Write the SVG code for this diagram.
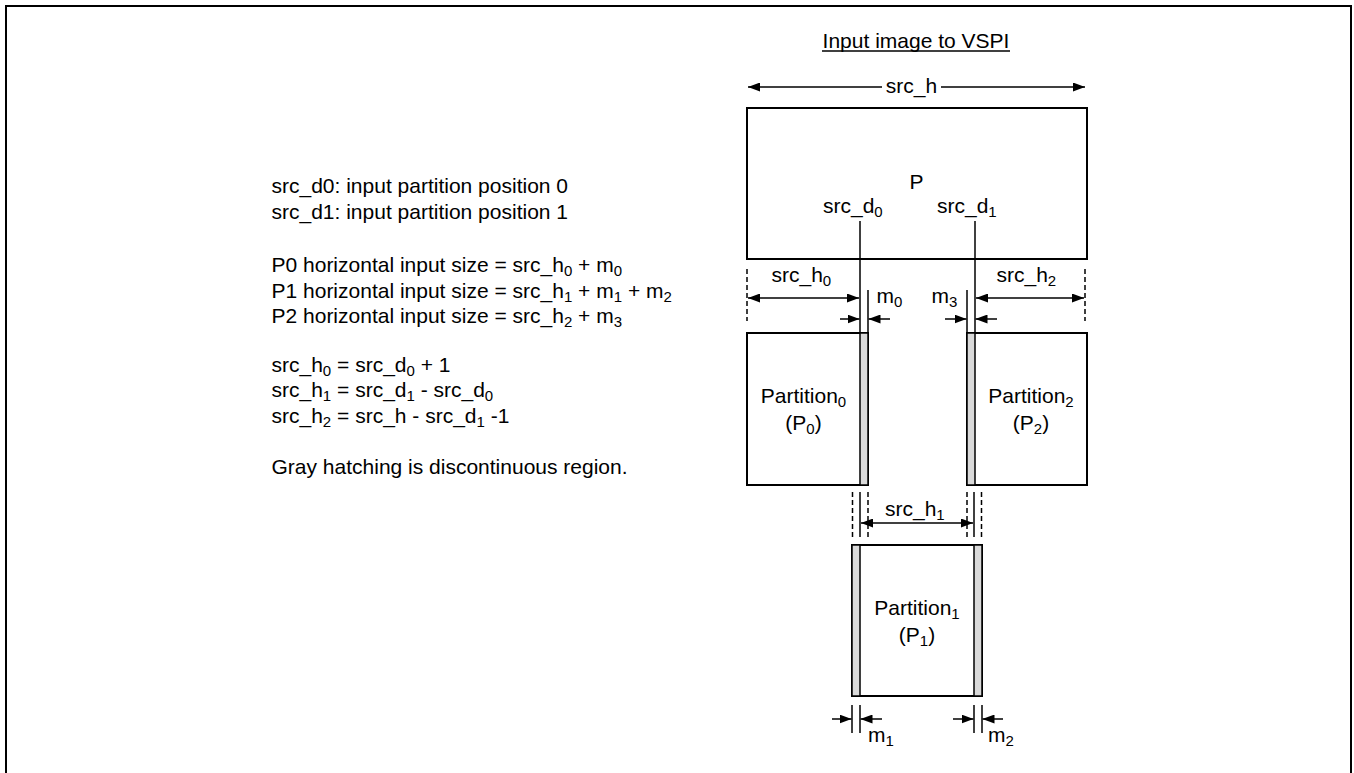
<svg xmlns="http://www.w3.org/2000/svg" width="1354" height="773" viewBox="0 0 1354 773">
<style>
text{font-family:"Liberation Sans",Arial,sans-serif;font-size:21px;fill:#000}
.sub{font-size:15px}
.box{fill:#fff;stroke:#000;stroke-width:2}
.strip{fill:#d9d9d9;stroke:#000;stroke-width:1.5}
.ln{stroke:#000;stroke-width:1.5;fill:none}
.dash{stroke:#000;stroke-width:1.5;fill:none;stroke-dasharray:5 3}
.arr{stroke:#000;stroke-width:1.5;fill:none;marker-end:url(#ah)}
.arr2{stroke:#000;stroke-width:1.5;fill:none;marker-start:url(#ah);marker-end:url(#ah)}
.arrs{stroke:#000;stroke-width:1.5;fill:none;marker-start:url(#ah)}
</style>
<defs>
<marker id="ah" viewBox="0 0 12 9" refX="12" refY="4.5" markerWidth="12" markerHeight="9" markerUnits="userSpaceOnUse" orient="auto-start-reverse">
<path d="M0,0 L12,4.5 L0,9 z" fill="#000"/>
</marker>
</defs>
<rect x="6" y="6" width="1345" height="780" fill="#fff" stroke="#000" stroke-width="2"/>

<g id="legend">
<text x="271.5" y="193.3">src_d0: input partition position 0</text>
<text x="271.5" y="219.3">src_d1: input partition position 1</text>
<text x="271.5" y="271.7">P0 horizontal input size = src_h<tspan class="sub" dy="4">0</tspan><tspan dy="-4"> + m</tspan><tspan class="sub" dy="4">0</tspan></text>
<text x="271.5" y="297.5">P1 horizontal input size = src_h<tspan class="sub" dy="4">1</tspan><tspan dy="-4"> + m</tspan><tspan class="sub" dy="4">1</tspan><tspan dy="-4"> + m</tspan><tspan class="sub" dy="4">2</tspan></text>
<text x="271.5" y="322.7">P2 horizontal input size = src_h<tspan class="sub" dy="4">2</tspan><tspan dy="-4"> + m</tspan><tspan class="sub" dy="4">3</tspan></text>
<text x="271.5" y="371.7">src_h<tspan class="sub" dy="4">0</tspan><tspan dy="-4"> = src_d</tspan><tspan class="sub" dy="4">0</tspan><tspan dy="-4"> + 1</tspan></text>
<text x="271.5" y="397.3">src_h<tspan class="sub" dy="4">1</tspan><tspan dy="-4"> = src_d</tspan><tspan class="sub" dy="4">1</tspan><tspan dy="-4"> - src_d</tspan><tspan class="sub" dy="4">0</tspan></text>
<text x="271.5" y="422.7">src_h<tspan class="sub" dy="4">2</tspan><tspan dy="-4"> = src_h - src_d</tspan><tspan class="sub" dy="4">1</tspan><tspan dy="-4"> -1</tspan></text>
<text x="271.5" y="474">Gray hatching is discontinuous region.</text>
</g>

<g id="title">
<text x="916" y="48.3" text-anchor="middle">Input image to VSPI</text>
<line x1="822" y1="51" x2="1010" y2="51" stroke="#000" stroke-width="1.3"/>
</g>

<g id="node-P">
<rect class="box" x="747" y="108" width="340" height="151"/>
<text x="916.5" y="189" text-anchor="middle">P</text>
<text x="823" y="212.7">src_d<tspan class="sub" dy="4">0</tspan></text>
<text x="937" y="212.7">src_d<tspan class="sub" dy="4">1</tspan></text>
</g>

<g id="node-P0">
<rect class="box" x="747" y="333" width="121" height="152"/>
<rect class="strip" x="860" y="333" width="8" height="152"/>
<text x="803.5" y="403" text-anchor="middle">Partition<tspan class="sub" dy="4">0</tspan></text>
<text x="803.5" y="430" text-anchor="middle">(P<tspan class="sub" dy="4">0</tspan><tspan dy="-4">)</tspan></text>
</g>

<g id="node-P2">
<rect class="box" x="967" y="333" width="120" height="152"/>
<rect class="strip" x="967" y="333" width="8" height="152"/>
<text x="1031" y="403" text-anchor="middle">Partition<tspan class="sub" dy="4">2</tspan></text>
<text x="1031" y="430" text-anchor="middle">(P<tspan class="sub" dy="4">2</tspan><tspan dy="-4">)</tspan></text>
</g>

<g id="node-P1">
<rect class="box" x="852" y="545" width="130" height="151"/>
<rect class="strip" x="852" y="545" width="8" height="151"/>
<rect class="strip" x="974" y="545" width="8" height="151"/>
<text x="917" y="615" text-anchor="middle">Partition<tspan class="sub" dy="4">1</tspan></text>
<text x="917" y="641.7" text-anchor="middle">(P<tspan class="sub" dy="4">1</tspan><tspan dy="-4">)</tspan></text>
</g>

<g id="connectors">
<line class="arrs" x1="748" y1="87" x2="882" y2="87"/>
<line class="arr" x1="941" y1="87" x2="1085" y2="87"/>
<text x="911.5" y="93" text-anchor="middle">src_h</text>
<line class="ln" x1="860" y1="221" x2="860" y2="333"/>
<line class="ln" x1="975" y1="221" x2="975" y2="333"/>
<line class="ln" x1="868" y1="290" x2="868" y2="333"/>
<line class="ln" x1="967" y1="290" x2="967" y2="333"/>
<line class="dash" x1="747" y1="269" x2="747" y2="321"/>
<line class="dash" x1="1085" y1="269" x2="1085" y2="321"/>
<line class="arr2" x1="748" y1="298" x2="859" y2="298"/>
<line class="arr2" x1="976" y1="298" x2="1084" y2="298"/>
<text x="771.5" y="281.7">src_h<tspan class="sub" dy="4">0</tspan></text>
<text x="996.5" y="281.7">src_h<tspan class="sub" dy="4">2</tspan></text>
<line class="arr" x1="840" y1="319" x2="859.5" y2="319"/>
<line class="arr" x1="890" y1="319" x2="868.5" y2="319"/>
<line class="arr" x1="945" y1="319" x2="966.5" y2="319"/>
<line class="arr" x1="997" y1="319" x2="975.5" y2="319"/>
<text x="876.5" y="303">m<tspan class="sub" dy="4">0</tspan></text>
<text x="931.5" y="303">m<tspan class="sub" dy="4">3</tspan></text>
<line class="dash" x1="852.5" y1="492" x2="852.5" y2="537"/>
<line class="ln" x1="860" y1="492" x2="860" y2="537"/>
<line class="dash" x1="868" y1="492" x2="868" y2="537"/>
<line class="dash" x1="967" y1="492" x2="967" y2="537"/>
<line class="ln" x1="974" y1="492" x2="974" y2="537"/>
<line class="dash" x1="981.5" y1="492" x2="981.5" y2="537"/>
<line class="arr2" x1="861" y1="523" x2="973" y2="523"/>
<text x="885" y="516">src_h<tspan class="sub" dy="4">1</tspan></text>
<line class="ln" x1="852" y1="705" x2="852" y2="733"/>
<line class="ln" x1="860" y1="705" x2="860" y2="733"/>
<line class="ln" x1="974" y1="705" x2="974" y2="733"/>
<line class="ln" x1="982" y1="705" x2="982" y2="733"/>
<line class="arr" x1="832" y1="719" x2="851.5" y2="719"/>
<line class="arr" x1="882" y1="719" x2="860.5" y2="719"/>
<line class="arr" x1="953" y1="719" x2="973.5" y2="719"/>
<line class="arr" x1="1003" y1="719" x2="982.5" y2="719"/>
<text x="868" y="741.7">m<tspan class="sub" dy="4">1</tspan></text>
<text x="988" y="741.7">m<tspan class="sub" dy="4">2</tspan></text>
</g>
</svg>
